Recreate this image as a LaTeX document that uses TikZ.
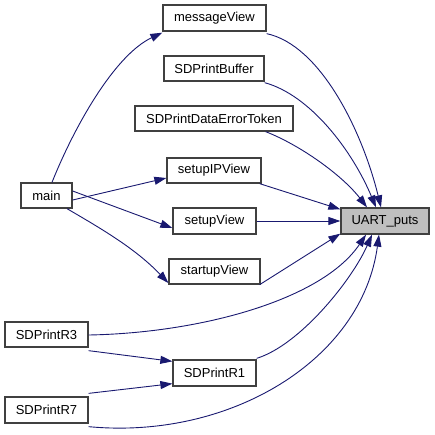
\documentclass[tikz,border=0pt]{standalone}
\usepackage{fontspec}
\setmainfont{Liberation Sans}
\usetikzlibrary{arrows.meta}
\definecolor{edgec}{HTML}{191970}
\definecolor{boxc}{HTML}{404040}
\begin{document}
\begin{tikzpicture}[x=1pt,y=-1pt,
  fn/.style={draw=boxc,line width=1.3pt,fill=white,inner sep=0pt,minimum height=25pt,font=\fontsize{13}{15}\selectfont},
  cur/.style={fn,fill=black!25},
  call/.style={draw=edgec,line width=0.9pt,-{Triangle[length=12pt,width=8pt,fill=edgec]}}]
\useasboundingbox (0,0) rectangle (435,434);
\node[fn,minimum width=103pt,minimum height=26pt] (msg) at (214.5,18) {messageView};
\node[fn,minimum width=100pt] (buf) at (214,68.5) {SDPrintBuffer};
\node[fn,minimum width=158pt] (det) at (214,118.5) {SDPrintDataErrorToken};
\node[fn,minimum width=51pt] (main) at (46.5,195.5) {main};
\node[fn,minimum width=94pt] (ipv) at (214,170.5) {setupIPView};
\node[fn,minimum width=83pt,minimum height=26pt] (sv) at (214.5,221) {setupView};
\node[fn,minimum width=91pt] (stv) at (214.5,271.5) {startupView};
\node[cur,minimum width=88pt,minimum height=26pt] (uart) at (385,221) {UART\_puts};
\node[fn,minimum width=83pt] (r3) at (46.5,334.5) {SDPrintR3};
\node[fn,minimum width=83pt,minimum height=26pt] (r1) at (214.5,373) {SDPrintR1};
\node[fn,minimum width=83pt,minimum height=26pt] (r7) at (46.5,410) {SDPrintR7};
% main calls
\draw[call] ([xshift=5.5pt]main.north) .. controls (75,125) and (115,55) .. ([yshift=-1pt]msg.south west);
\draw[call] ([yshift=-4.5pt]main.east) -- ([yshift=-7.5pt]ipv.west);
\draw[call] ([yshift=4.5pt]main.east) -- ([yshift=-7pt]sv.west);
\draw[call] ([xshift=20.5pt]main.south) .. controls (100,228) and (135,248) .. ([yshift=-11.5pt]stv.west);
% calls to UART_puts
\draw[call] ([yshift=-2pt]msg.south east) .. controls (320,45) and (362,130) .. ([xshift=-4pt]uart.north);
\draw[call] ([yshift=-1pt]buf.south east) .. controls (310,95) and (352,150) .. ([xshift=-9pt]uart.north);
\draw[call] ([xshift=-28pt]det.south east) .. controls (300,145) and (342,175) .. ([xshift=-18pt]uart.north);
\draw[call] ([xshift=-2pt]ipv.south east) -- ([yshift=-2pt]uart.north west);
\draw[call] (sv.east) -- (uart.west);
\draw[call] ([xshift=-1pt]stv.south east) -- ([yshift=1pt]uart.south west);
\draw[call] ([yshift=-0.5pt]r3.east) .. controls (200,333) and (322,300) .. ([xshift=-19pt]uart.south);
\draw[call] ([yshift=1pt]r1.north east) .. controls (300,345) and (352,280) .. ([xshift=-13pt]uart.south);
\draw[call] ([yshift=-3pt]r7.south east) .. controls (230,440) and (362,360) .. ([xshift=-6pt]uart.south);
% calls to SDPrintR1
\draw[call] ([yshift=-3pt]r3.south east) -- ([yshift=-2pt]r1.north west);
\draw[call] ([yshift=3pt]r7.north east) -- ([yshift=3pt]r1.south west);
\end{tikzpicture}
\end{document}
